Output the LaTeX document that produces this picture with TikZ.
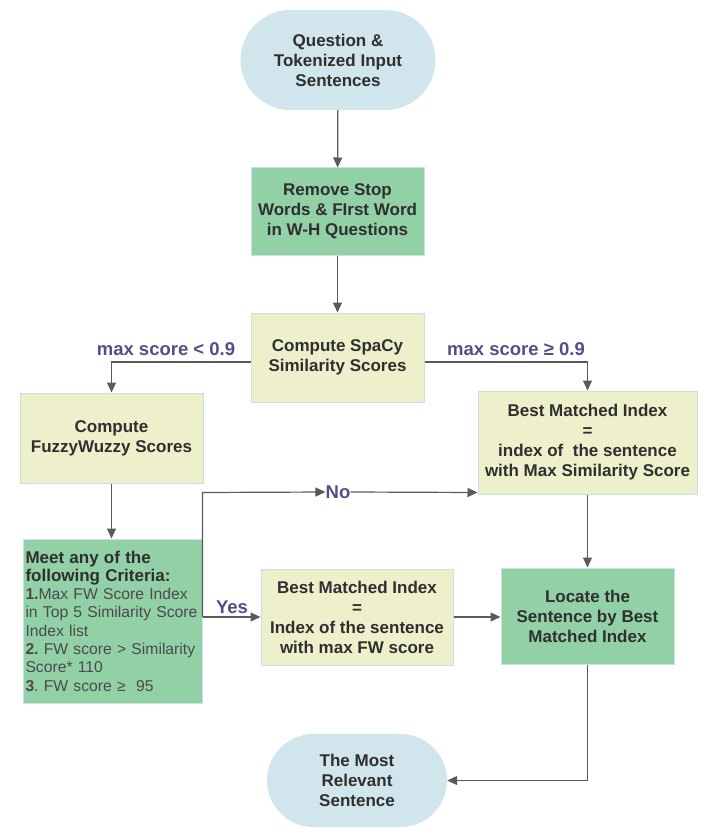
\documentclass[tikz,border=0pt]{standalone}
\usepackage{fontspec}
\setmainfont{Liberation Sans}
\usetikzlibrary{arrows.meta,shapes.misc}
\definecolor{cblue}{HTML}{D0E6EC}
\definecolor{cgreen}{HTML}{92D0A6}
\definecolor{cyellow}{HTML}{EEF0CC}
\definecolor{cborder}{HTML}{C6E2E4}
\definecolor{cline}{HTML}{5A5A5A}
\definecolor{ctext}{HTML}{2F2F2F}
\definecolor{creg}{HTML}{4A4A4A}
\definecolor{clabel}{HTML}{5A4A88}
\frenchspacing
\hyphenpenalty=10000
\begin{document}
\begin{tikzpicture}[x=1pt,y=-1pt,
  base/.style={inner sep=2pt, align=center, text=ctext, font=\bfseries\fontsize{17}{20}\selectfont},
  term/.style={base, rounded rectangle, fill=cblue},
  gbox/.style={base, rectangle, fill=cgreen, draw=cborder, line width=1pt},
  ybox/.style={base, rectangle, fill=cyellow, draw=cborder, line width=1pt},
  conn/.style={draw=cline, line width=1.2pt, -{Triangle[length=10pt,width=9pt]}},
  lab/.style={text=clabel, font=\bfseries\fontsize{18.5}{20}\selectfont, inner sep=0pt}
]
\useasboundingbox (0,0) rectangle (708,834);

\node[term, minimum width=199pt, minimum height=100pt] (top) at (338,60) {Question \&\\Tokenized Input\\Sentences};
\node[gbox, minimum width=173pt, minimum height=87pt] (rs) at (337.5,211.5) {Remove Stop\\Words \& FIrst Word\\in W-H Questions};
\node[ybox, minimum width=173pt, minimum height=89pt] (sp) at (337.5,357.5) {Compute SpaCy\\Similarity Scores};
\node[ybox, minimum width=183pt, minimum height=90pt] (fz) at (111.5,438) {Compute\\FuzzyWuzzy Scores};
\node[ybox, minimum width=219pt, minimum height=103pt] (bm1) at (587.5,442.5) {Best Matched Index\\=\\index of~ the sentence\\with Max Similarity Score};
\node[gbox, minimum width=179pt, minimum height=164pt, text width=174pt, inner sep=2.5pt, align=left,
      font=\fontsize{15.7}{18.3}\selectfont, text=creg] (meet) at (112.5,621)
  {{\color{ctext}\bfseries\fontsize{17}{18.3}\selectfont Meet any of the\\following Criteria:}\\
   {\bfseries 1.}Max FW Score Index\\in Top 5 Similarity Score\\Index list\\
   {\bfseries 2.} FW score > Similarity\\Score* 110\\
   {\bfseries 3}. FW score ≥~ 95};
\node[ybox, minimum width=192pt, minimum height=96pt] (bm2) at (357,617) {Best Matched Index\\=\\Index of the sentence\\with max FW score};
\node[gbox, minimum width=173pt, minimum height=96pt] (loc) at (587.5,616) {Locate the\\Sentence by Best\\Matched Index};
\node[term, minimum width=184pt, minimum height=93pt] (bot) at (357,780.5) {The Most\\Relevant\\Sentence};

% connectors
\draw[conn] (top) -- (rs);
\draw[conn] (rs) -- (sp);
\draw[conn] ([yshift=-4.5pt]sp.west) -| (fz.north);
\draw[conn] ([yshift=-4.5pt]sp.east) -| (bm1.north);
\node[lab] (lt) at (166,349) {max score < 0.9};
\node[lab] (ge) at (516,349) {max score ≥ 0.9};
\draw[conn] (fz.south) -- (fz.south |- meet.north);
\draw[conn] (bm2.west -| meet.east) -- (bm2.west);
\node[lab] (yes) at (232,607) {Yes};
\path (meet.east |- bm1.south) ++(0,-2) coordinate (nc);
\node[lab] (no) at (338,492) {No};
\draw[conn] (bm2.west -| meet.east) -- (nc) -- (no.west);
\draw[conn] (no.east) -- (nc -| bm1.west);
\draw[conn] (bm1.south) -- (loc.north);
\draw[conn] (bm2.east) -- (bm2.east -| loc.west);
\draw[conn] (loc.south) |- (bot.east);
\end{tikzpicture}
\end{document}
